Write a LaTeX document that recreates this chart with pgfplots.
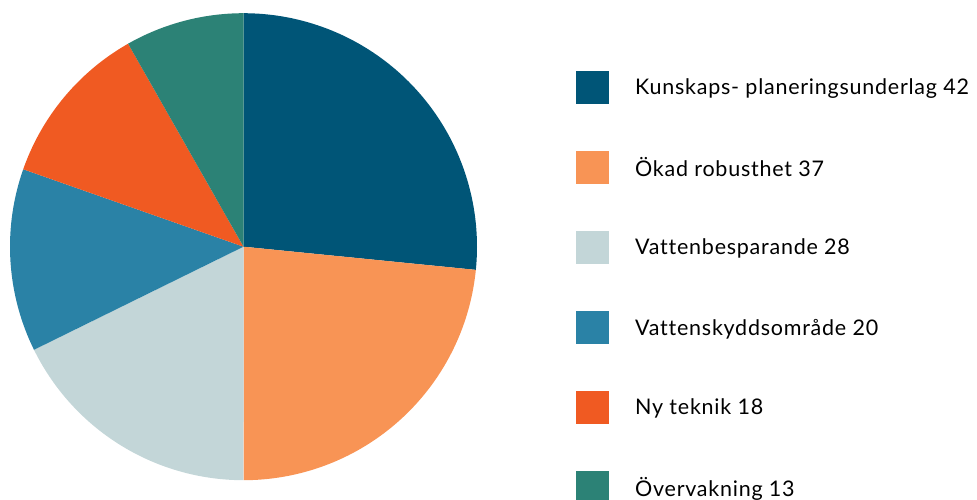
\documentclass[border=0pt]{standalone}
\usepackage{pgfplots}
\pgfplotsset{compat=1.18}
\usepackage{fontspec}
\setmainfont{Lato}
\newfontfamily\legfont[LetterSpace=3.5,Ligatures=NoCommon]{Lato}
\definecolor{cA}{HTML}{005577}
\definecolor{cB}{HTML}{F89455}
\definecolor{cC}{HTML}{C3D6D8}
\definecolor{cD}{HTML}{2A82A6}
\definecolor{cE}{HTML}{F05A22}
\definecolor{cF}{HTML}{2C8276}
\begin{document}
\begin{tikzpicture}[x=1pt,y=1pt]
% values
\def\vA{42}\def\vB{37}\def\vC{28}\def\vD{20}\def\vE{18}\def\vF{13}
\pgfmathsetmacro\tot{\vA+\vB+\vC+\vD+\vE+\vF}
\pgfmathsetmacro\aA{90}
\pgfmathsetmacro\aB{\aA-360*\vA/\tot}
\pgfmathsetmacro\aC{\aB-360*\vB/\tot}
\pgfmathsetmacro\aD{\aC-360*\vC/\tot}
\pgfmathsetmacro\aE{\aD-360*\vD/\tot}
\pgfmathsetmacro\aF{\aE-360*\vE/\tot}
\pgfmathsetmacro\aG{\aF-360*\vF/\tot}
\begin{axis}[
  at={(243.5pt,252.3pt)}, anchor=center,
  width=467pt, height=467pt, scale only axis,
  xmin=-1, xmax=1, ymin=-1, ymax=1,
  hide axis, clip=false,
  legend image code/.code={\fill[#1,draw=none] (0pt,-16.5pt) rectangle (33pt,16.5pt);},
  legend style={at={(axis cs:1.424,0.7525)}, anchor=north west, draw=none, fill=none,
    inner sep=0pt, row sep=47pt, column sep=0pt,
    nodes={inner sep=0pt, anchor=west},
    font=\legfont\fontsize{21.5}{25}\selectfont},
  legend cell align=left,
]
\addplot[fill=cA, draw=none, domain=\aB:\aA, samples=120] ({cos(x)},{sin(x)}) -- (axis cs:0,0) -- cycle;
\addlegendentry{\hspace{26pt}Kunskaps- planeringsunderlag 42}
\addplot[fill=cB, draw=none, domain=\aC:\aB, samples=120] ({cos(x)},{sin(x)}) -- (axis cs:0,0) -- cycle;
\addlegendentry{\hspace{26pt}Ökad robusthet 37}
\addplot[fill=cC, draw=none, domain=\aD:\aC, samples=120] ({cos(x)},{sin(x)}) -- (axis cs:0,0) -- cycle;
\addlegendentry{\hspace{26pt}Vattenbesparande 28}
\addplot[fill=cD, draw=none, domain=\aE:\aD, samples=120] ({cos(x)},{sin(x)}) -- (axis cs:0,0) -- cycle;
\addlegendentry{\hspace{26pt}Vattenskyddsområde 20}
\addplot[fill=cE, draw=none, domain=\aF:\aE, samples=120] ({cos(x)},{sin(x)}) -- (axis cs:0,0) -- cycle;
\addlegendentry{\hspace{26pt}Ny teknik 18}
\addplot[fill=cF, draw=none, domain=\aG:\aF, samples=120] ({cos(x)},{sin(x)}) -- (axis cs:0,0) -- cycle;
\addlegendentry{\hspace{26pt}Övervakning 13}
\end{axis}
\pgfresetboundingbox
\useasboundingbox (0,0) rectangle (977pt,499pt);
\end{tikzpicture}
\end{document}
